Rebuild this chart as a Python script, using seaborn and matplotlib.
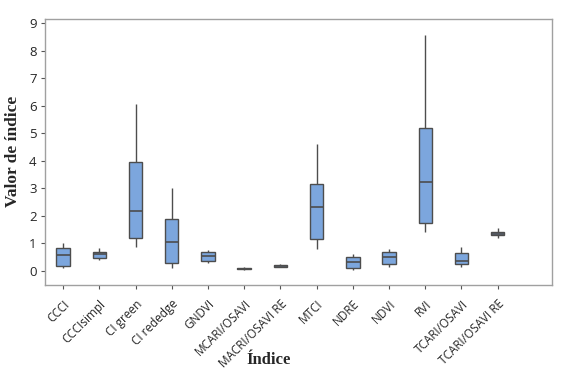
import matplotlib
matplotlib.use("Agg")
import matplotlib.pyplot as plt
import seaborn as sns
import pandas as pd
import numpy as np

categories = ["CCCI", "CCCIsimpl", "CI green", "CI rededge", "GNDVI", "MCARI/OSAVI",
              "MACRI/OSAVI RE", "MTCI", "NDRE", "NDVI", "RVI", "TCARI/OSAVI", "TCARI/OSAVI RE"]
# five-number summaries: whisker low, Q1, median, Q3, whisker high
low    = [0.09, 0.39, 0.87, 0.11, 0.29, 0.02, 0.12, 0.78, 0.03, 0.15, 1.40, 0.15, 1.19]
q1     = [0.18, 0.47, 1.19, 0.29, 0.36, 0.05, 0.15, 1.14, 0.10, 0.25, 1.75, 0.24, 1.30]
median = [0.56, 0.61, 2.18, 1.04, 0.52, 0.08, 0.18, 2.30, 0.32, 0.51, 3.23, 0.36, 1.35]
q3     = [0.81, 0.69, 3.96, 1.89, 0.67, 0.11, 0.22, 3.15, 0.49, 0.67, 5.19, 0.63, 1.40]
high   = [1.00, 0.81, 6.06, 3.00, 0.75, 0.14, 0.26, 4.60, 0.60, 0.79, 8.57, 0.85, 1.55]
yticks = list(range(0, 10))

rows = []
for i, c in enumerate(categories):
    for v in (low[i], q1[i], median[i], q3[i], high[i]):
        rows.append({"Índice": c, "Valor": v})
df = pd.DataFrame(rows)

sns.set_style("white")
fig = plt.figure(figsize=(5.64, 3.70), dpi=100)
ax = fig.add_axes([0.0798, 0.2297, 0.8989, 0.7198])

edge = "#4d4d4d"
sns.boxplot(data=df, x="Índice", y="Valor", order=categories, whis=(0, 100),
            color="#7ca6dd", saturation=1, width=0.37, linewidth=1.0,
            linecolor=edge, showcaps=False, ax=ax,
            boxprops=dict(facecolor="#7ca6dd", edgecolor=edge),
            whiskerprops=dict(color=edge), medianprops=dict(color=edge, linewidth=1.2))

ax.set_xlim(-0.5, 13.5)
ax.set_ylim(-0.52, 9.16)
ax.set_yticks(yticks)
ax.set_yticklabels([str(t) for t in yticks], fontsize=9.5, family="Open Sans")
ax.set_xticks(range(len(categories)))
ax.set_xticklabels(categories, rotation=45, ha="right", rotation_mode="anchor",
                   fontsize=8.5, family="Open Sans")
ax.tick_params(axis="both", which="both", direction="out", length=3, width=0.8,
               color="#555555", bottom=True, left=True, pad=3)
ax.tick_params(axis="x", pad=6)
for s in ax.spines.values():
    s.set_color("#a0a0a0")
    s.set_linewidth(1.0)
ax.set_ylabel("Valor de índice", fontsize=12.5, fontweight="bold", family="Liberation Serif", labelpad=6)
ax.set_xlabel("Índice", fontsize=12, fontweight="bold", family="Liberation Serif")
ax.xaxis.set_label_coords(0.44, -0.25)
fig.savefig("out.png", dpi=100)
